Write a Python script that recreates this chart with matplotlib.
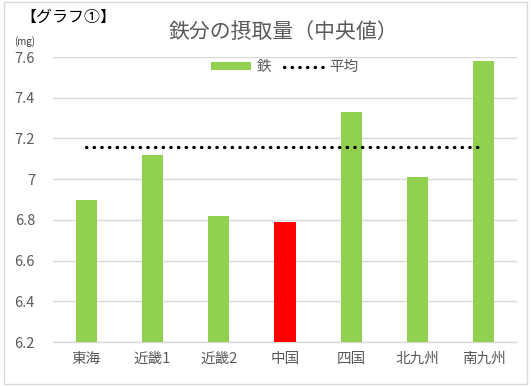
import matplotlib
matplotlib.use("Agg")
import matplotlib.pyplot as plt
from matplotlib.patches import Rectangle
from matplotlib.lines import Line2D
from matplotlib.patches import Patch

plt.rcParams['font.family'] = ['Noto Sans CJK JP', 'DejaVu Sans']

categories = ["東海", "近畿1", "近畿2", "中国", "四国", "北九州", "南九州"]
iron = [6.90, 7.12, 6.82, 6.79, 7.33, 7.01, 7.58]
average = 7.16
highlight = "中国"
yticks = [6.2, 6.4, 6.6, 6.8, 7.0, 7.2, 7.4, 7.6]
ytick_labels = ["6.2", "6.4", "6.6", "6.8", "7", "7.2", "7.4", "7.6"]

W, H = 531, 386
fig = plt.figure(figsize=(W / 100, H / 100), dpi=100)
ax = fig.add_axes([53 / W, 44 / H, 464 / W, 285 / H])

green = "#92d050"
colors = ["#ff0000" if c == highlight else green for c in categories]
x = list(range(len(categories)))
ax.bar(x, [v - 6.2 for v in iron], bottom=6.2, width=0.32, color=colors, zorder=3)
ax.plot(x, [average] * len(x), color="black", linestyle=(0, (0.1, 2.2)),
        linewidth=2.4, dash_capstyle="round", zorder=4)

ax.set_xlim(-0.5, len(categories) - 0.5)
ax.set_ylim(6.2, 7.6)
ax.set_yticks(yticks)
ax.set_yticklabels(ytick_labels)
ax.set_xticks(x)
ax.set_xticklabels(categories)
ax.grid(axis="y", color="#d9d9d9", linewidth=1, zorder=0)
for s in ["top", "right", "left"]:
    ax.spines[s].set_visible(False)
ax.spines["bottom"].set_color("#d9d9d9")
ax.spines["bottom"].set_linewidth(1)
ax.tick_params(axis="both", length=0, colors="#595959")
ax.tick_params(axis="y", pad=13, labelsize=10.5)
ax.tick_params(axis="x", pad=7, labelsize=10.5)

handles = [Patch(facecolor=green, edgecolor="none"),
           Line2D([0], [0], color="black", linestyle=(0, (0.1, 2.2)), linewidth=2.4,
                  dash_capstyle="round")]
leg = ax.legend(handles, ["鉄", "平均"], loc="upper center", bbox_to_anchor=(0.50, 1.035),
                ncol=2, frameon=False, fontsize=10.5, handlelength=2.7, handleheight=0.45,
                columnspacing=0.9, handletextpad=0.4)
for t in leg.get_texts():
    t.set_color("#595959")

fig.text(283 / W, 1 - 32 / H, "鉄分の摂取量（中央値）", ha="center", va="center",
         fontsize=15, color="#595959")
fig.text(20 / W, 1 - 17 / H, "【グラフ①】", ha="left", va="center",
         fontsize=11.5, color="black")
fig.text(14 / W, 1 - 42 / H, "(mg)", ha="left", va="center", fontsize=7, color="#404040")

fig.patches.append(Rectangle((4 / W, 2 / H), 523 / W, 382 / H, transform=fig.transFigure,
                             fill=False, edgecolor="#d9d9d9", linewidth=1))

fig.savefig("out.png", dpi=100)
